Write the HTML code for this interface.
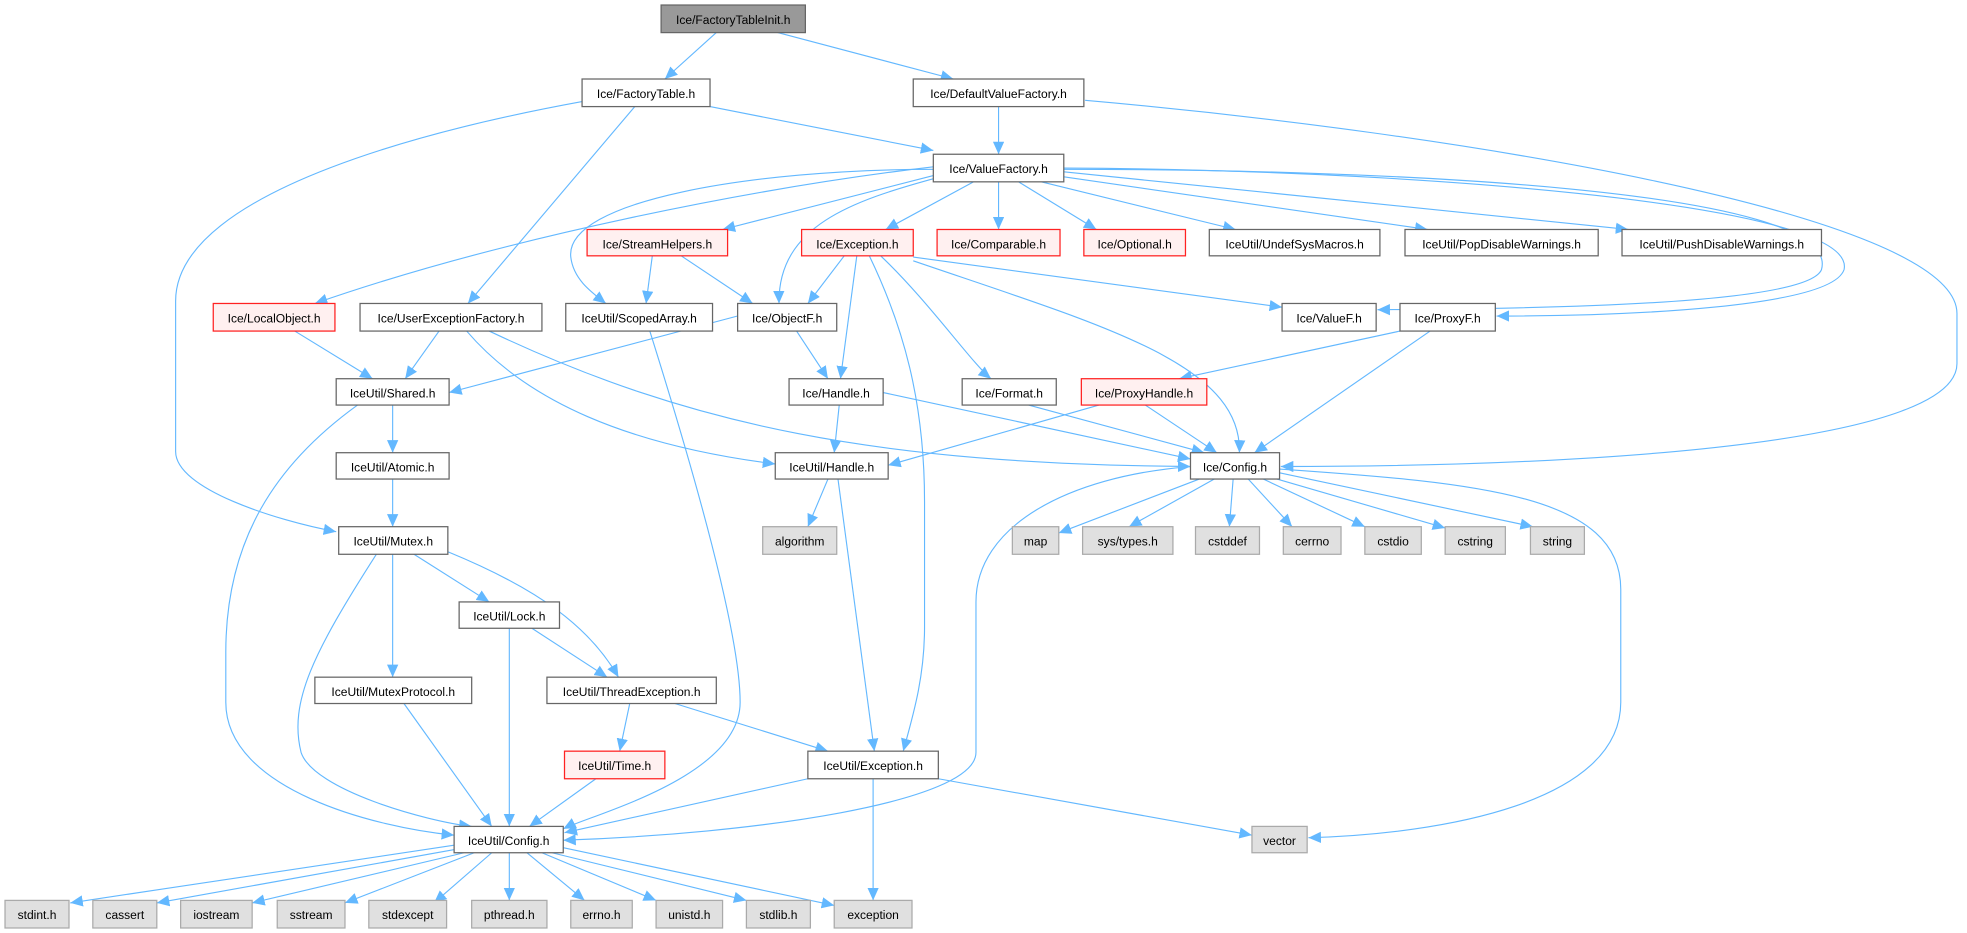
<!DOCTYPE html>
<html><head><meta charset="utf-8"><style>
html,body{margin:0;padding:0;background:#fff;width:1967px;height:933px;overflow:hidden}
svg{display:block}
text{font-family:"Liberation Sans",Arial,sans-serif;font-size:9.6px;fill:#000}
.e{fill:none;stroke:#63b8ff;stroke-width:0.9}
.n rect{fill:#fff;stroke:#666;stroke-width:1}
.r rect{fill:#fff0f0;stroke:#f22;stroke-width:1}
.g rect{fill:#e0e0e0;stroke:#aaa;stroke-width:1}
.t rect{fill:#999;stroke:#666;stroke-width:1}
</style></head><body>
<svg width="1967" height="933" viewBox="0 0 1568 744" preserveAspectRatio="none">
<defs><marker id="a" markerUnits="userSpaceOnUse" markerWidth="11" markerHeight="9" refX="10" refY="4.5" orient="auto"><path d="M0,0 L10,4.5 L0,9 z" fill="#63b8ff"/></marker></defs>
<g class="e" marker-end="url(#a)">
<path d="M571,26 L530,63"/>
<path d="M620,26 L760,63"/>
<path d="M566,85 L744,120"/>
<path d="M464,81 C360,100 140,150 140,240 V360 C140,390 220,415 268,424"/>
<path d="M506,85 L373,242"/>
<path d="M796,85 L796,123"/>
<path d="M865,80 C1150,105 1560,170 1560,250 V290 C1560,350 1300,372 1021,372"/>
<path d="M744,133 C600,150 400,190 251,242"/>
<path d="M744,135 C600,135 450,160 455,205 C457,222 470,232 483,242"/>
<path d="M744,140 L576,183"/>
<path d="M746,142 C680,160 620,180 621,242"/>
<path d="M776,145 L706,183"/>
<path d="M796,145 L796,183"/>
<path d="M812,145 L874,183"/>
<path d="M830,145 L985,183"/>
<path d="M848,141 L1138,183"/>
<path d="M848,137 L1298,183"/>
<path d="M848,135 C1100,135 1470,150 1452,215 C1440,245 1200,246 1098,247"/>
<path d="M848,134 C1100,135 1482,160 1470,215 C1460,245 1300,252 1193,252"/>
<path d="M520,204 L515,242"/>
<path d="M543,204 L600,242"/>
<path d="M673,204 L644,242"/>
<path d="M683,204 L670,302"/>
<path d="M693,204 C720,260 737,320 737,400 V500 C737,540 728,570 720,599"/>
<path d="M702,204 C740,240 775,290 790,302"/>
<path d="M728,205 L1022,245"/>
<path d="M728,208 C880,260 990,290 988,361"/>
<path d="M235,264 L297,302"/>
<path d="M350,264 L323,302"/>
<path d="M372,264 C420,320 500,355 618,370"/>
<path d="M390,264 C550,340 700,370 949,372"/>
<path d="M518,264 C545,350 590,500 590,560 C590,620 470,650 449,661"/>
<path d="M588,252 L358,313"/>
<path d="M635,264 L660,302"/>
<path d="M313,323 L313,361"/>
<path d="M285,323 C220,370 180,430 180,520 V560 C180,630 300,660 362,666"/>
<path d="M313,382 L313,420"/>
<path d="M300,442 C250,520 230,560 240,600 C250,630 340,655 376,659"/>
<path d="M313,442 L313,540"/>
<path d="M330,442 L390,480"/>
<path d="M357,440 C430,470 470,500 493,540"/>
<path d="M406,501 L406,659"/>
<path d="M424,501 L484,540"/>
<path d="M322,561 L392,659"/>
<path d="M502,561 L494,599"/>
<path d="M538,561 L660,599"/>
<path d="M475,621 L422,659"/>
<path d="M644,621 L450,664"/>
<path d="M696,621 L696,718"/>
<path d="M748,621 L998,666"/>
<path d="M704,313 L949,366"/>
<path d="M669,323 L665,361"/>
<path d="M820,323 L960,361"/>
<path d="M913,323 L970,361"/>
<path d="M876,323 L708,371"/>
<path d="M1116,264 L940,302"/>
<path d="M1140,264 L1000,361"/>
<path d="M660,382 L644,420"/>
<path d="M668,382 L697,599"/>
<path d="M949,372 C850,380 778,420 778,480 V600 C778,640 600,665 449,670"/>
<path d="M956,382 L844,425"/>
<path d="M968,382 L900,420"/>
<path d="M983,382 L980,420"/>
<path d="M995,382 L1030,420"/>
<path d="M1007,382 L1088,420"/>
<path d="M1018,382 L1152,421"/>
<path d="M1020,377 L1222,420"/>
<path d="M1020,374 C1180,385 1292,395 1292,470 V560 C1292,640 1150,665 1043,668"/>
<path d="M362,674 C250,690 150,705 56,720"/>
<path d="M365,677 L125,720"/>
<path d="M370,680 L201,720"/>
<path d="M378,680 L275,720"/>
<path d="M392,680 L346,720"/>
<path d="M406,680 L406,718"/>
<path d="M420,680 L466,718"/>
<path d="M432,680 L523,718"/>
<path d="M440,680 L595,718"/>
<path d="M449,676 L665,722"/>
</g>
<g class="t"><rect x="527" y="4" width="115" height="22"/><text x="584.5" y="19" text-anchor="middle">Ice/FactoryTableInit.h</text></g>
<g class="n"><rect x="464" y="63" width="102" height="22"/><text x="515" y="78" text-anchor="middle">Ice/FactoryTable.h</text></g>
<g class="n"><rect x="728" y="63" width="136" height="22"/><text x="796" y="78" text-anchor="middle">Ice/DefaultValueFactory.h</text></g>
<g class="n"><rect x="744" y="123" width="104" height="22"/><text x="796" y="138" text-anchor="middle">Ice/ValueFactory.h</text></g>
<g class="r"><rect x="468" y="183" width="112" height="21"/><text x="524" y="198" text-anchor="middle">Ice/StreamHelpers.h</text></g>
<g class="r"><rect x="639" y="183" width="89" height="21"/><text x="683.5" y="198" text-anchor="middle">Ice/Exception.h</text></g>
<g class="r"><rect x="747" y="183" width="98" height="21"/><text x="796" y="198" text-anchor="middle">Ice/Comparable.h</text></g>
<g class="r"><rect x="864" y="183" width="81" height="21"/><text x="904.5" y="198" text-anchor="middle">Ice/Optional.h</text></g>
<g class="n"><rect x="964" y="183" width="136" height="21"/><text x="1032" y="198" text-anchor="middle">IceUtil/UndefSysMacros.h</text></g>
<g class="n"><rect x="1120" y="183" width="154" height="21"/><text x="1197" y="198" text-anchor="middle">IceUtil/PopDisableWarnings.h</text></g>
<g class="n"><rect x="1293" y="183" width="159" height="21"/><text x="1372.5" y="198" text-anchor="middle">IceUtil/PushDisableWarnings.h</text></g>
<g class="r"><rect x="170" y="242" width="97" height="22"/><text x="218.5" y="257" text-anchor="middle">Ice/LocalObject.h</text></g>
<g class="n"><rect x="287" y="242" width="145" height="22"/><text x="359.5" y="257" text-anchor="middle">Ice/UserExceptionFactory.h</text></g>
<g class="n"><rect x="451" y="242" width="117" height="22"/><text x="509.5" y="257" text-anchor="middle">IceUtil/ScopedArray.h</text></g>
<g class="n"><rect x="588" y="242" width="79" height="22"/><text x="627.5" y="257" text-anchor="middle">Ice/ObjectF.h</text></g>
<g class="n"><rect x="1022" y="242" width="75" height="22"/><text x="1059.5" y="257" text-anchor="middle">Ice/ValueF.h</text></g>
<g class="n"><rect x="1116" y="242" width="76" height="22"/><text x="1154" y="257" text-anchor="middle">Ice/ProxyF.h</text></g>
<g class="n"><rect x="268" y="302" width="90" height="21"/><text x="313" y="317" text-anchor="middle">IceUtil/Shared.h</text></g>
<g class="n"><rect x="629" y="302" width="75" height="21"/><text x="666.5" y="317" text-anchor="middle">Ice/Handle.h</text></g>
<g class="n"><rect x="767" y="302" width="75" height="21"/><text x="804.5" y="317" text-anchor="middle">Ice/Format.h</text></g>
<g class="r"><rect x="862" y="302" width="100" height="21"/><text x="912" y="317" text-anchor="middle">Ice/ProxyHandle.h</text></g>
<g class="n"><rect x="268" y="361" width="90" height="21"/><text x="313" y="376" text-anchor="middle">IceUtil/Atomic.h</text></g>
<g class="n"><rect x="618" y="361" width="90" height="21"/><text x="663" y="376" text-anchor="middle">IceUtil/Handle.h</text></g>
<g class="n"><rect x="949" y="361" width="71" height="21"/><text x="984.5" y="376" text-anchor="middle">Ice/Config.h</text></g>
<g class="n"><rect x="270" y="420" width="87" height="22"/><text x="313.5" y="435" text-anchor="middle">IceUtil/Mutex.h</text></g>
<g class="g"><rect x="608" y="420" width="59" height="22"/><text x="637.5" y="435" text-anchor="middle">algorithm</text></g>
<g class="g"><rect x="807" y="420" width="37" height="22"/><text x="825.5" y="435" text-anchor="middle">map</text></g>
<g class="g"><rect x="863" y="420" width="72" height="22"/><text x="899" y="435" text-anchor="middle">sys/types.h</text></g>
<g class="g"><rect x="953" y="420" width="51" height="22"/><text x="978.5" y="435" text-anchor="middle">cstddef</text></g>
<g class="g"><rect x="1023" y="420" width="46" height="22"/><text x="1046" y="435" text-anchor="middle">cerrno</text></g>
<g class="g"><rect x="1088" y="420" width="45" height="22"/><text x="1110.5" y="435" text-anchor="middle">cstdio</text></g>
<g class="g"><rect x="1152" y="420" width="48" height="22"/><text x="1176" y="435" text-anchor="middle">cstring</text></g>
<g class="g"><rect x="1220" y="420" width="43" height="22"/><text x="1241.5" y="435" text-anchor="middle">string</text></g>
<g class="n"><rect x="366" y="480" width="80" height="21"/><text x="406" y="495" text-anchor="middle">IceUtil/Lock.h</text></g>
<g class="n"><rect x="251" y="540" width="125" height="21"/><text x="313.5" y="555" text-anchor="middle">IceUtil/MutexProtocol.h</text></g>
<g class="n"><rect x="436" y="540" width="135" height="21"/><text x="503.5" y="555" text-anchor="middle">IceUtil/ThreadException.h</text></g>
<g class="r"><rect x="450" y="599" width="80" height="22"/><text x="490" y="614" text-anchor="middle">IceUtil/Time.h</text></g>
<g class="n"><rect x="644" y="599" width="104" height="22"/><text x="696" y="614" text-anchor="middle">IceUtil/Exception.h</text></g>
<g class="n"><rect x="362" y="659" width="87" height="21"/><text x="405.5" y="674" text-anchor="middle">IceUtil/Config.h</text></g>
<g class="g"><rect x="998" y="659" width="44" height="21"/><text x="1020" y="674" text-anchor="middle">vector</text></g>
<g class="g"><rect x="4" y="718" width="51" height="22"/><text x="29.5" y="733" text-anchor="middle">stdint.h</text></g>
<g class="g"><rect x="74" y="718" width="51" height="22"/><text x="99.5" y="733" text-anchor="middle">cassert</text></g>
<g class="g"><rect x="144" y="718" width="57" height="22"/><text x="172.5" y="733" text-anchor="middle">iostream</text></g>
<g class="g"><rect x="221" y="718" width="54" height="22"/><text x="248" y="733" text-anchor="middle">sstream</text></g>
<g class="g"><rect x="294" y="718" width="62" height="22"/><text x="325" y="733" text-anchor="middle">stdexcept</text></g>
<g class="g"><rect x="376" y="718" width="60" height="22"/><text x="406" y="733" text-anchor="middle">pthread.h</text></g>
<g class="g"><rect x="455" y="718" width="49" height="22"/><text x="479.5" y="733" text-anchor="middle">errno.h</text></g>
<g class="g"><rect x="523" y="718" width="53" height="22"/><text x="549.5" y="733" text-anchor="middle">unistd.h</text></g>
<g class="g"><rect x="595" y="718" width="51" height="22"/><text x="620.5" y="733" text-anchor="middle">stdlib.h</text></g>
<g class="g"><rect x="665" y="718" width="62" height="22"/><text x="696" y="733" text-anchor="middle">exception</text></g>
</svg>
</body></html>
